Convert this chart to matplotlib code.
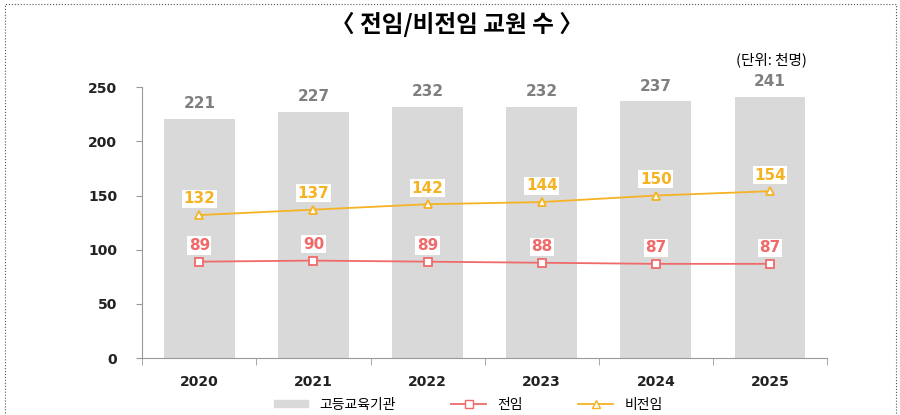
import matplotlib.pyplot as plt
from matplotlib.patches import Rectangle
from matplotlib.lines import Line2D
from matplotlib.patches import Patch

plt.rcParams['font.family'] = ['Noto Sans CJK KR', 'DejaVu Sans']

# 데이터
years = ['2020', '2021', '2022', '2023', '2024', '2025']
total = [221, 227, 232, 232, 237, 241]
fulltime = [89, 90, 89, 88, 87, 87]
parttime = [132, 137, 142, 144, 150, 154]

bar_c = '#d9d9d9'
red = '#f06a6a'
orange = '#f5b324'

fig = plt.figure(figsize=(9, 4.15), dpi=100)
ax = fig.add_axes([0.158, 0.137, 0.761, 0.653])

x = range(len(years))
ax.bar(x, total, width=0.62, color=bar_c, zorder=1)
ax.plot(x, fulltime, color=red, lw=1.3, marker='s', ms=6, mfc='white', mec=red, mew=1.3, zorder=3)
ax.plot(x, parttime, color=orange, lw=1.3, marker='^', ms=6, mfc='white', mec=orange, mew=1.3, zorder=3)

for i in x:
    ax.text(i, total[i] + 7, str(total[i]), ha='center', va='bottom', fontsize=11,
            fontweight='bold', color='#7f7f7f', family='DejaVu Sans')
    ax.text(i, fulltime[i] + 8, str(fulltime[i]), ha='center', va='bottom', fontsize=11,
            fontweight='bold', color=red, family='DejaVu Sans',
            bbox=dict(boxstyle='square,pad=0.1', fc='white', ec='none'), zorder=4)
    ax.text(i, parttime[i] + 8, str(parttime[i]), ha='center', va='bottom', fontsize=11,
            fontweight='bold', color=orange, family='DejaVu Sans',
            bbox=dict(boxstyle='square,pad=0.1', fc='white', ec='none'), zorder=4)

ax.set_xlim(-0.5, len(years) - 0.5)
ax.set_ylim(0, 250)
ax.set_yticks([0, 50, 100, 150, 200, 250])
ax.set_yticklabels(['0', '50', '100', '150', '200', '250'], fontsize=10, fontweight='bold',
                   family='DejaVu Sans', color='#222222')
ax.set_xticks(list(x))
ax.set_xticklabels(years, fontsize=10, fontweight='bold', family='DejaVu Sans', color='#222222')
ax.set_xticks([i + 0.5 for i in range(-1, len(years))], minor=True)
ax.tick_params(axis='x', which='major', length=0, pad=12)
ax.tick_params(axis='x', which='minor', length=5, color='#999999', direction='out')
ax.tick_params(axis='y', length=4, color='#999999', pad=14)
for s in ['top', 'right']:
    ax.spines[s].set_visible(False)
ax.spines['left'].set_color('#999999')
ax.spines['bottom'].set_color('#999999')

fig.text(0.508, 0.94, '〈 전임/비전임 교원 수 〉', ha='center', va='center', fontsize=17, fontweight='bold')
fig.text(0.897, 0.855, '(단위: 천명)', ha='right', va='center', fontsize=10.5)

handles = [Patch(color=bar_c),
           Line2D([], [], color=red, marker='s', mfc='white', mec=red, ms=6, lw=1.3),
           Line2D([], [], color=orange, marker='^', mfc='white', mec=orange, ms=6, lw=1.3)]
fig.legend(handles, ['고등교육기관', '전임', '비전임'], loc='center', bbox_to_anchor=(0.52, 0.025),
           ncol=3, frameon=False, fontsize=10, columnspacing=4, handlelength=2.5, handleheight=0.4)

fig.patches.append(Rectangle((0.005, -0.05), 0.99, 1.04, transform=fig.transFigure, fill=False,
                             ls=':', lw=0.8, ec='#555555'))

fig.savefig('out.png')
